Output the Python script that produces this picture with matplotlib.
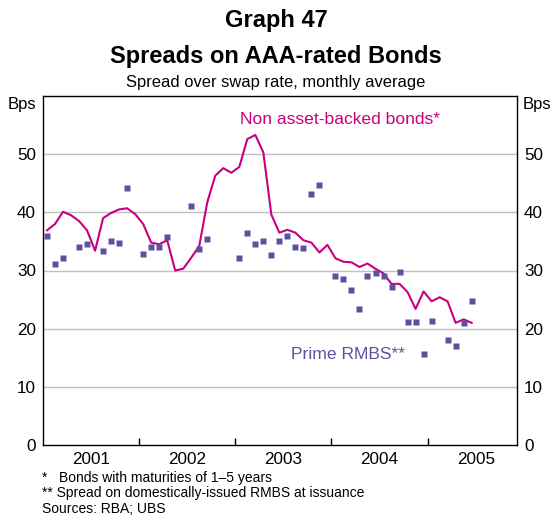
import numpy as np
import matplotlib
matplotlib.use('Agg')
import matplotlib.pyplot as plt

plt.rcParams['font.family'] = ['Liberation Sans', 'DejaVu Sans']

# monthly, Jan 2001 - Jun 2005
non_abs = [36.9, 38.0, 40.1, 39.5, 38.5, 36.9, 33.4, 39.0, 39.9, 40.5, 40.7, 39.7,
           38.0, 34.8, 34.5, 35.2, 30.0, 30.3, 32.2, 34.2, 41.7, 46.3, 47.6, 46.8,
           47.8, 52.6, 53.3, 50.3, 39.6, 36.5, 37.0, 36.5, 35.2, 34.8, 33.1, 34.4,
           32.1, 31.5, 31.4, 30.6, 31.2, 30.3, 29.5, 27.7, 27.7, 26.3, 23.4, 26.4,
           24.7, 25.4, 24.7, 21.0, 21.6, 21.0]

# prime RMBS issuance: month index (0 = Jan 2001) and spread
rmbs_month = [0, 1, 2, 4, 5, 7, 8, 9, 10, 12, 13, 14, 15, 18, 19, 20,
              24, 25, 26, 27, 28, 29, 30, 31, 32, 33, 34, 36, 37, 38, 39,
              40, 41, 42, 43, 44, 45, 46, 47, 48, 50, 51, 52, 53]
rmbs_spread = [35.9, 31.2, 32.2, 34.0, 34.6, 33.3, 35.1, 34.8, 44.2, 32.8, 34.0, 34.0, 35.7, 41.1, 33.7, 35.4,
               32.2, 36.5, 34.5, 35.1, 32.6, 35.1, 35.9, 34.0, 33.8, 43.2, 44.7, 29.0, 28.6, 26.6, 23.4,
               29.0, 29.5, 29.0, 27.1, 29.7, 21.1, 21.1, 15.7, 21.3, 18.0, 17.1, 20.9, 24.7]

years = [2001, 2002, 2003, 2004, 2005]
yticks = [0, 10, 20, 30, 40, 50]

line_col = '#C8007E'
dot_col = '#5F509F'

x_line = 2001 + (np.arange(len(non_abs)) + 0.5) / 12
x_dots = 2001 + (np.array(rmbs_month) + 0.5) / 12

fig = plt.figure(figsize=(5.52, 5.19), dpi=100)
ax = fig.add_axes([43 / 552, 74 / 519, 474 / 552, 349 / 519])

for y in yticks[1:]:
    ax.axhline(y, color='#C0C0C0', lw=1, zorder=0)

ax.plot(x_line, non_abs, color=line_col, lw=1.5, zorder=3)
ax.plot(x_dots, rmbs_spread, 's', color=dot_col, ms=4.8, mec='none', zorder=4)

ax.set_xlim(2001.0, 2005.93)
ax.set_ylim(0, 60)

ax.set_xticks(years[1:])
ax.set_xticklabels([])
ax.tick_params(axis='x', which='major', direction='in', length=5, width=1, color='black')
ax.set_xticks([y + 0.5 for y in years], minor=True)
ax.set_xticklabels([str(y) for y in years], minor=True, fontsize=12.3)
ax.tick_params(axis='x', which='minor', length=0, pad=5)

ax.set_yticks(yticks)
ax.tick_params(axis='y', which='both', length=0, labelsize=12.3, pad=5,
               left=True, right=True, labelleft=True, labelright=True)

for s in ax.spines.values():
    s.set_linewidth(1)
    s.set_color('black')

ax.text(2003.05, 55.9, 'Non asset-backed bonds*', color=line_col, fontsize=12.6, ha='left', va='center')
ax.text(2003.58, 15.5, 'Prime RMBS**', color=dot_col, fontsize=12.6, ha='left', va='center')

fig.text(0.5, 1 - 20 / 519, 'Graph 47', ha='center', va='center', fontsize=17, fontweight='bold')
fig.text(0.5, 1 - 56 / 519, 'Spreads on AAA-rated Bonds', ha='center', va='center', fontsize=17, fontweight='bold')
fig.text(0.5, 1 - 82 / 519, 'Spread over swap rate, monthly average', ha='center', va='center', fontsize=11.9)
fig.text(36 / 552, 1 - 104 / 519, 'Bps', ha='right', va='center', fontsize=12)
fig.text(523 / 552, 1 - 104 / 519, 'Bps', ha='left', va='center', fontsize=12)

fig.text(42 / 552, 1 - 478 / 519, '*   Bonds with maturities of 1\u20135 years', ha='left', va='center', fontsize=10)
fig.text(42 / 552, 1 - 493 / 519, '** Spread on domestically-issued RMBS at issuance', ha='left', va='center', fontsize=10)
fig.text(42 / 552, 1 - 509 / 519, 'Sources: RBA; UBS', ha='left', va='center', fontsize=10)

fig.savefig('out.png', dpi=100)
